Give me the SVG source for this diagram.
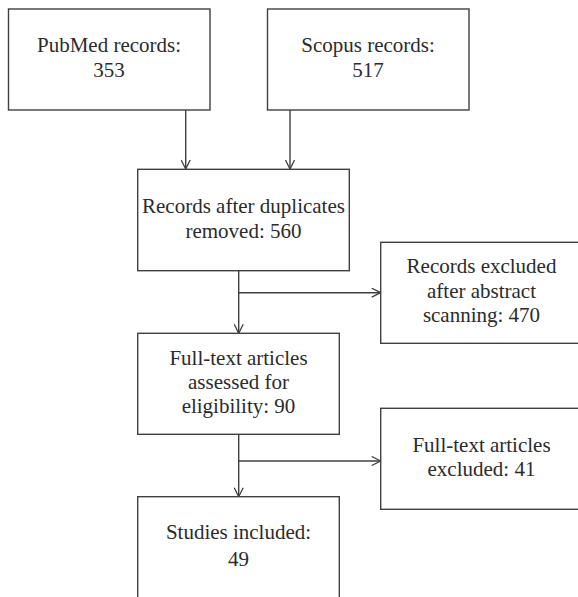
<svg xmlns="http://www.w3.org/2000/svg" width="578" height="597" viewBox="0 0 578 597">
<style>
.box{fill:#fff;stroke:#404040;stroke-width:1.4}
.t{font-family:"Liberation Serif","Times New Roman",serif;font-size:21px;fill:#2b2b2b;text-anchor:middle}
.c{fill:none;stroke:#404040;stroke-width:1.4}
</style>
<defs>
<marker id="ah" viewBox="0 0 10 10" refX="10" refY="5" markerWidth="10" markerHeight="10" markerUnits="userSpaceOnUse" orient="auto">
<path d="M1,0.5 L10,5 L1,9.5" fill="none" stroke="#404040" stroke-width="1.3"/>
</marker>
</defs>
<rect width="578" height="597" fill="#fff"/>
<g id="connectors">
<path class="c" d="M185.7,110 V169" marker-end="url(#ah)"/>
<path class="c" d="M290,110 V169" marker-end="url(#ah)"/>
<path class="c" d="M238.7,271 V333.3" marker-end="url(#ah)"/>
<path class="c" d="M238.7,292.7 H380.7" marker-end="url(#ah)"/>
<path class="c" d="M238.7,434.3 V496.7" marker-end="url(#ah)"/>
<path class="c" d="M238.7,461 H380.7" marker-end="url(#ah)"/>
</g>
<g id="pubmed">
<rect class="box" x="8.5" y="9" width="201.5" height="101"/>
<text class="t" x="109" y="52">PubMed records:</text>
<text class="t" x="109" y="77">353</text>
</g>
<g id="scopus">
<rect class="box" x="267.5" y="9" width="201.5" height="101"/>
<text class="t" x="368" y="52">Scopus records:</text>
<text class="t" x="368" y="77">517</text>
</g>
<g id="dedup">
<rect class="box" x="137.7" y="169.3" width="211.6" height="101.4"/>
<text class="t" x="243.5" y="213">Records after duplicates</text>
<text class="t" x="243.5" y="238">removed: 560</text>
</g>
<g id="excluded1">
<rect class="box" x="380.7" y="242.3" width="210" height="101"/>
<text class="t" x="481.5" y="273.3">Records excluded</text>
<text class="t" x="481.5" y="298">after abstract</text>
<text class="t" x="481.5" y="322.3">scanning: 470</text>
</g>
<g id="fulltext">
<rect class="box" x="137.7" y="333.3" width="201.6" height="101"/>
<text class="t" x="238.5" y="365">Full-text articles</text>
<text class="t" x="238.5" y="389.3">assessed for</text>
<text class="t" x="238.5" y="413.3">eligibility: 90</text>
</g>
<g id="excluded2">
<rect class="box" x="380.7" y="408.3" width="210" height="101"/>
<text class="t" x="481.5" y="452.3">Full-text articles</text>
<text class="t" x="481.5" y="476">excluded: 41</text>
</g>
<g id="included">
<rect class="box" x="137.7" y="496.7" width="201.6" height="120"/>
<text class="t" x="238.5" y="539">Studies included:</text>
<text class="t" x="238.5" y="565.7">49</text>
</g>
</svg>
